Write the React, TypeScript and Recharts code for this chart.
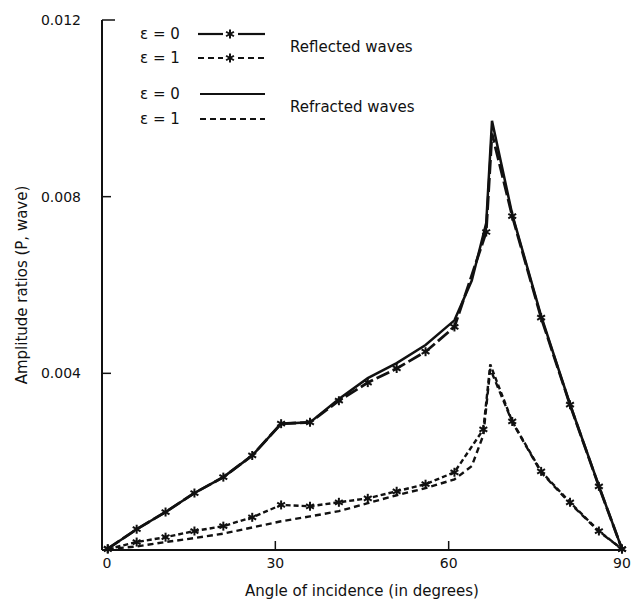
import React from 'react';
import { LineChart, Line, XAxis, YAxis, Legend } from 'recharts';

// Angle of incidence (degrees) and amplitude ratio for each curve
const reflectedAngles0 = [1, 6, 11, 16, 21, 26, 31, 36, 41, 46, 51, 56, 61, 66.5, 67.5, 71, 76, 81, 86, 90];
const reflectedAmps0 = [
  0.00003, 0.00047, 0.00086, 0.00129, 0.00165, 0.00214, 0.00286, 0.00289, 0.00338, 0.00379,
  0.00411, 0.00449, 0.00505, 0.0072, 0.00943, 0.00756, 0.00526, 0.00329, 0.00144, 0.00002,
];

const refractedAngles0 = [1, 6, 11, 16, 21, 26, 31, 36, 41, 46, 51, 56, 61, 64, 66.5, 67.5, 71, 76, 81, 86, 90];
const refractedAmps0 = [
  0.00003, 0.00047, 0.00086, 0.00129, 0.00165, 0.00214, 0.00286, 0.00289, 0.00342, 0.00389,
  0.00423, 0.00464, 0.0052, 0.0061, 0.0074, 0.00972, 0.0076, 0.0053, 0.0033, 0.00145, 0.00002,
];

const reflectedAngles1 = [1, 6, 11, 16, 21, 26, 31, 36, 41, 46, 51, 56, 61, 66, 67.2, 71, 76, 81, 86, 90];
const reflectedAmps1 = [
  0.00002, 0.00018, 0.00029, 0.00043, 0.00054, 0.00074, 0.00102, 0.00099, 0.00108, 0.00117,
  0.00133, 0.00149, 0.00176, 0.00273, 0.0042, 0.00291, 0.00178, 0.00108, 0.00043, 0.00002,
];

const refractedAngles1 = [1, 6, 11, 16, 21, 26, 31, 36, 41, 46, 51, 56, 61, 64, 66, 67.2, 71, 76, 81, 86, 90];
const refractedAmps1 = [
  0.00002, 0.00008, 0.00018, 0.00027, 0.00037, 0.00051, 0.00065, 0.00076, 0.00088, 0.00106,
  0.00124, 0.0014, 0.0016, 0.0019, 0.0026, 0.0041, 0.0029, 0.00176, 0.00106, 0.00042, 0.00002,
];

const xTicks = [0, 30, 60, 90];
const yTicks = [0.004, 0.008, 0.012];

const FONT = '"DejaVu Sans", sans-serif';
const INK = '#111';

const toPoints = (angles: number[], amps: number[]) => angles.map((x, i) => ({ x, y: amps[i] }));

const Asterisk = ({ cx, cy, r = 4.5 }: { cx: number; cy: number; r?: number }) => (
  <g stroke={INK} strokeWidth={2}>
    <line x1={cx} y1={cy - r} x2={cx} y2={cy + r} />
    <line x1={cx - r * 0.87} y1={cy - r * 0.5} x2={cx + r * 0.87} y2={cy + r * 0.5} />
    <line x1={cx - r * 0.87} y1={cy + r * 0.5} x2={cx + r * 0.87} y2={cy - r * 0.5} />
  </g>
);

// star on every computed point except the cusp at the peak
const starDot = (amps: number[]) => {
  const peak = Math.max(...amps);
  return (props: any) => {
    const { cx, cy, index, payload } = props;
    if (cx == null || cy == null || payload.y === peak) return <g key={`n-${index}`} />;
    return <Asterisk key={`s-${index}`} cx={cx} cy={cy} />;
  };
};

const XTick = (props: any) => {
  const { x, y, payload } = props;
  const v = payload.value;
  return (
    <g>
      {v > 0 && v < 90 && <line x1={x} y1={y} x2={x} y2={y - 9} stroke={INK} strokeWidth={1.5} />}
      <text x={v === 0 ? x + 5 : x} y={y + 18} textAnchor="middle" fontSize={14} fontFamily={FONT} fill={INK}>
        {v}
      </text>
    </g>
  );
};

const YTick = (props: any) => {
  const { x, y, payload } = props;
  const v = payload.value;
  return (
    <g>
      <line x1={x} y1={y} x2={x + (v >= 0.012 ? 13 : 9)} y2={y} stroke={INK} strokeWidth={1.5} />
      <text x={x - 21} y={y} dy="0.35em" textAnchor="end" fontSize={14} fontFamily={FONT} fill={INK}>
        {v.toFixed(3)}
      </text>
    </g>
  );
};

const LegendKey = () => {
  const label = { fontSize: 15, fontFamily: FONT, fill: INK };
  const line = { stroke: INK, strokeWidth: 2.2 };
  return (
    <svg width={330} height={112}>
      <text x={10} y={21} {...label}>ε = 0</text>
      <line x1={68} y1={16} x2={93} y2={16} {...line} />
      <Asterisk cx={100} cy={16} />
      <line x1={108} y1={16} x2={135} y2={16} {...line} />

      <text x={10} y={45} {...label}>ε = 1</text>
      <line x1={68} y1={40} x2={93} y2={40} {...line} strokeDasharray="6 4" />
      <Asterisk cx={100} cy={40} />
      <line x1={108} y1={40} x2={135} y2={40} {...line} strokeDasharray="6 4" />

      <text x={160} y={34} {...label}>Reflected waves</text>

      <text x={10} y={81} {...label}>ε = 0</text>
      <line x1={70} y1={76} x2={135} y2={76} {...line} />

      <text x={10} y={106} {...label}>ε = 1</text>
      <line x1={70} y1={101} x2={135} y2={101} {...line} strokeDasharray="6 4" />

      <text x={160} y={94} {...label}>Refracted waves</text>
    </svg>
  );
};

export default function App() {
  return (
    <div style={{ width: 635, height: 604, background: '#fff' }}>
      <style>{'body{margin:0}'}</style>
      <LineChart width={635} height={604} margin={{ top: 20, right: 13, left: 22, bottom: 0 }}>
        <XAxis
          type="number"
          dataKey="x"
          domain={[0, 90]}
          ticks={xTicks}
          height={54}
          tickSize={0}
          tickMargin={0}
          tick={<XTick />}
          tickLine={false}
          axisLine={{ stroke: INK, strokeWidth: 2 }}
          label={{
            value: 'Angle of incidence (in degrees)',
            position: 'insideBottom',
            offset: 8,
            style: { fontSize: 15, fontFamily: FONT, fill: INK },
          }}
        />
        <YAxis
          type="number"
          domain={[0, 0.012]}
          ticks={yTicks}
          width={80}
          tickSize={0}
          tickMargin={0}
          tick={<YTick />}
          tickLine={false}
          axisLine={{ stroke: INK, strokeWidth: 2 }}
          label={{
            value: 'Amplitude ratios (P, wave)',
            angle: -90,
            position: 'insideLeft',
            offset: 0,
            style: { fontSize: 15, fontFamily: FONT, fill: INK, textAnchor: 'middle' },
          }}
        />
        <Legend
          layout="vertical"
          align="center"
          verticalAlign="middle"
          content={<LegendKey />}
          wrapperStyle={{ left: 130, top: 18, width: 330 }}
        />
        <Line
          data={toPoints(refractedAngles0, refractedAmps0)}
          dataKey="y"
          stroke={INK}
          strokeWidth={2.5}
          dot={false}
          isAnimationActive={false}
        />
        <Line
          data={toPoints(reflectedAngles0, reflectedAmps0)}
          dataKey="y"
          stroke={INK}
          strokeWidth={2.8}
          strokeDasharray="14 4"
          dot={starDot(reflectedAmps0)}
          isAnimationActive={false}
        />
        <Line
          data={toPoints(refractedAngles1, refractedAmps1)}
          dataKey="y"
          stroke={INK}
          strokeWidth={2.4}
          strokeDasharray="6 4"
          dot={false}
          isAnimationActive={false}
        />
        <Line
          data={toPoints(reflectedAngles1, reflectedAmps1)}
          dataKey="y"
          stroke={INK}
          strokeWidth={2.4}
          strokeDasharray="5 3"
          dot={starDot(reflectedAmps1)}
          isAnimationActive={false}
        />
      </LineChart>
    </div>
  );
}
